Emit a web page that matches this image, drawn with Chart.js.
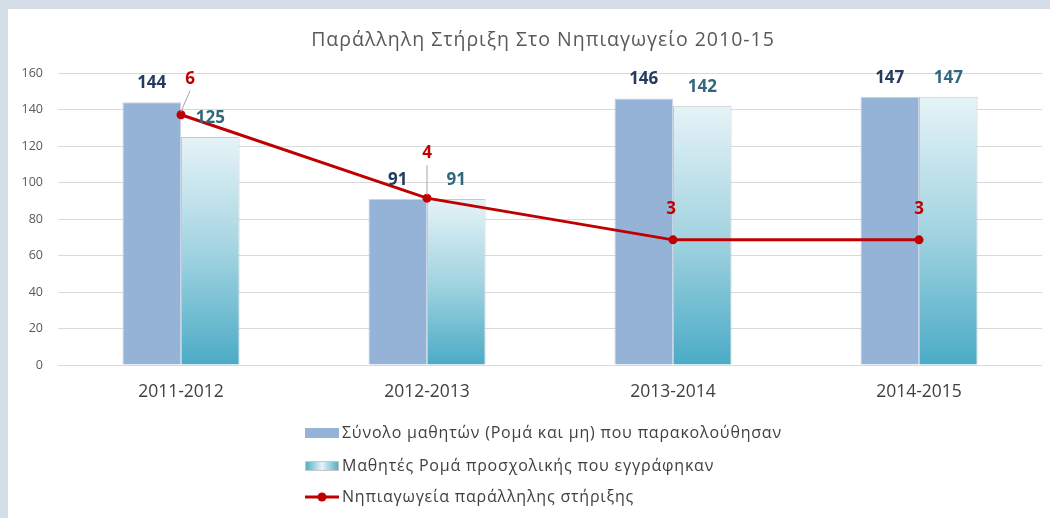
<!DOCTYPE html>
<html>
<head>
<meta charset="utf-8">
<script src="https://cdn.jsdelivr.net/npm/chart.js@4.4.0/dist/chart.umd.min.js"></script>
<style>
  html, body { margin: 0; padding: 0; background: #d5dde6; }
  body { width: 1050px; height: 518px; position: relative; overflow: hidden; }
  #wrap { position: absolute; left: 8px; top: 9px; width: 1042px; height: 509px; background: #ffffff; }
  canvas { display: block; }
</style>
</head>
<body>
<div id="wrap"><canvas id="c" width="1042" height="509"></canvas></div>
<script>
const TITLE = 'Παράλληλη Στήριξη Στο Νηπιαγωγείο 2010-15';
const categories = ['2011-2012', '2012-2013', '2013-2014', '2014-2015'];
const seriesNames = [
  'Σύνολο μαθητών (Ρομά και μη) που παρακολούθησαν',
  'Μαθητές Ρομά προσχολικής που εγγράφηκαν',
  'Νηπιαγωγεία παράλληλης στήριξης'
];
const totalStudents = [144, 91, 146, 147];
const romaStudents = [125, 91, 142, 147];
const supportSchools = [6, 4, 3, 3];
const yTicks = [0, 20, 40, 60, 80, 100, 120, 140, 160];

const FONT = "'Open Sans', 'DejaVu Sans', sans-serif";

function romaGradient(ctx) {
  const chart = ctx.chart;
  const y = chart.scales && chart.scales.y;
  if (!y || ctx.raw === undefined) return '#9fd1de';
  const top = y.getPixelForValue(ctx.raw);
  const bottom = y.getPixelForValue(0);
  if (!isFinite(top) || !isFinite(bottom) || top === bottom) return '#9fd1de';
  const g = chart.ctx.createLinearGradient(0, top, 0, bottom);
  g.addColorStop(0, '#e6f3f7');
  g.addColorStop(0.5, '#a3d4e1');
  g.addColorStop(1, '#4babc6');
  return g;
}

// Label offsets for the line series (as moved in the original)
const lineLabelOffsets = [
  { dx: 9, dy: -36, leader: true },
  { dx: 0, dy: -45, leader: true },
  { dx: -2, dy: -31, leader: false },
  { dx: 0, dy: -31, leader: false }
];

const labelsPlugin = {
  id: 'valueLabels',
  afterDatasetsDraw(chart) {
    const ctx = chart.ctx;
    ctx.save();
    ctx.textAlign = 'center';
    ctx.textBaseline = 'middle';
    ctx.font = "bold 17px " + FONT;
    const colors = ['#243b5e', '#31687b'];
    [0, 1].forEach(di => {
      const meta = chart.getDatasetMeta(di);
      meta.data.forEach((bar, i) => {
        ctx.fillStyle = colors[di];
        ctx.fillText(String(chart.data.datasets[di].data[i]), bar.x, bar.y - 19);
      });
    });
    const lm = chart.getDatasetMeta(2);
    lm.data.forEach((pt, i) => {
      const o = lineLabelOffsets[i];
      const lx = pt.x + o.dx, ly = pt.y + o.dy;
      if (o.leader) {
        ctx.strokeStyle = '#a6a6a6';
        ctx.lineWidth = 1;
        ctx.beginPath();
        ctx.moveTo(lx, ly + 12);
        ctx.lineTo(pt.x, pt.y - 3);
        ctx.stroke();
      }
      ctx.fillStyle = '#c00000';
      ctx.fillText(String(chart.data.datasets[2].data[i]), lx, ly);
    });
    ctx.restore();
  }
};

const titleLegendPlugin = {
  id: 'titleLegend',
  afterDraw(chart) {
    const ctx = chart.ctx;
    ctx.save();
    // title
    ctx.fillStyle = '#595959';
    ctx.font = "19.5px " + FONT;
    ctx.letterSpacing = '1px';
    ctx.textAlign = 'center';
    ctx.textBaseline = 'middle';
    ctx.fillText(TITLE, 535, 31);
    // legend
    const x0 = 297, mw = 34;
    const rows = [424, 457, 488];
    ctx.textAlign = 'left';
    ctx.font = "16px " + FONT;
    ctx.letterSpacing = '0.8px';
    chart.data.datasets.forEach((ds, i) => {
      const y = rows[i];
      if (i === 0) {
        ctx.fillStyle = ds.backgroundColor;
        ctx.fillRect(x0, y - 5, mw, 10);
      } else if (i === 1) {
        const g = ctx.createLinearGradient(x0, 0, x0 + mw, 0);
        g.addColorStop(0, '#4babc6');
        g.addColorStop(0.5, '#e6f3f7');
        g.addColorStop(1, '#4babc6');
        ctx.fillStyle = g;
        ctx.fillRect(x0, y - 5, mw, 10);
        ctx.strokeStyle = '#c8c8c8';
        ctx.lineWidth = 1;
        ctx.strokeRect(x0 + 0.5, y - 4.5, mw - 1, 9);
      } else {
        ctx.strokeStyle = ds.borderColor;
        ctx.lineWidth = 3;
        ctx.beginPath();
        ctx.moveTo(x0, y);
        ctx.lineTo(x0 + mw, y);
        ctx.stroke();
        ctx.fillStyle = ds.borderColor;
        ctx.beginPath();
        ctx.arc(x0 + mw / 2, y, 4.5, 0, Math.PI * 2);
        ctx.fill();
      }
      ctx.fillStyle = '#404040';
      ctx.fillText(ds.label, x0 + mw + 3, y);
    });
    ctx.restore();
  }
};

new Chart(document.getElementById('c'), {
  data: {
    labels: categories,
    datasets: [
      {
        type: 'bar',
        label: seriesNames[0],
        data: totalStudents,
        yAxisID: 'y',
        backgroundColor: '#95b3d7',
        borderColor: '#c9d5e6',
        borderWidth: 1,
        categoryPercentage: 0.476,
        barPercentage: 1.0,
        order: 2
      },
      {
        type: 'bar',
        label: seriesNames[1],
        data: romaStudents,
        yAxisID: 'y',
        backgroundColor: romaGradient,
        borderColor: '#c8c8c8',
        borderWidth: 1,
        categoryPercentage: 0.476,
        barPercentage: 1.0,
        order: 2
      },
      {
        type: 'line',
        label: seriesNames[2],
        data: supportSchools,
        yAxisID: 'y2',
        borderColor: '#c00000',
        backgroundColor: '#c00000',
        borderWidth: 3,
        pointRadius: 4.5,
        pointHoverRadius: 4.5,
        pointBackgroundColor: '#c00000',
        pointBorderWidth: 0,
        tension: 0,
        order: 0
      }
    ]
  },
  options: {
    responsive: false,
    animation: false,
    devicePixelRatio: 1,
    layout: { padding: { left: 0, right: 8, top: 64, bottom: 113 } },
    plugins: {
      legend: { display: false },
      title: { display: false },
      tooltip: { enabled: false }
    },
    scales: {
      x: {
        grid: { display: false, drawTicks: false },
        border: { display: false },
        ticks: { color: '#404040', font: { family: FONT, size: 17.5 }, padding: 17 },
        afterFit(s) { s.height = 40; }
      },
      y: {
        position: 'left',
        min: 0, max: 160,
        afterBuildTicks(s) { s.ticks = yTicks.map(v => ({ value: v })); },
        grid: { color: '#d9d9d9', lineWidth: 1, drawTicks: false },
        border: { display: false },
        ticks: { color: '#595959', font: { family: FONT, size: 12.5 }, padding: 15 },
        afterFit(s) { s.width = 50; }
      },
      y2: {
        display: false,
        position: 'right',
        min: 0, max: 7
      }
    }
  },
  plugins: [labelsPlugin, titleLegendPlugin]
});
</script>
</body>
</html>
